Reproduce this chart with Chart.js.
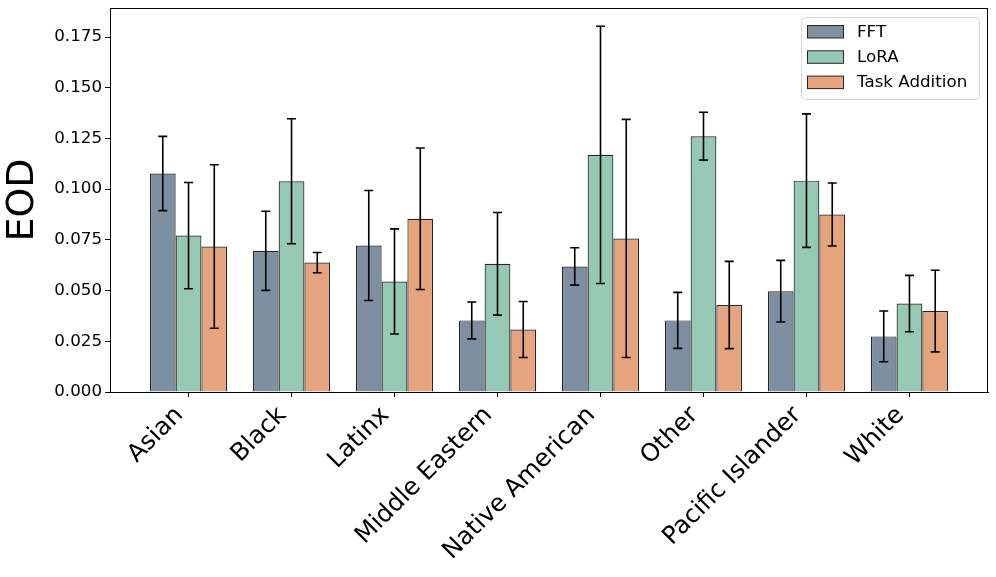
<!DOCTYPE html>
<html>
<head>
<meta charset="utf-8">
<title>EOD by group</title>
<script src="https://cdn.jsdelivr.net/npm/chart.js@4.4.0/dist/chart.umd.min.js"></script>
<style>
    html, body { margin: 0; padding: 0; background: #fff; }
    #wrap { position: relative; width: 996px; height: 577px; }
</style>
</head>
<body>
<div id="wrap"><canvas id="eodChart"></canvas></div>
<script>
const groups = ['Asian', 'Black', 'Latinx', 'Middle Eastern', 'Native American', 'Other', 'Pacific Islander', 'White'];

const fftValues = [0.1077, 0.0696, 0.0722, 0.0353, 0.0619, 0.0353, 0.0497, 0.0274];
const fftErrors = [0.0183, 0.0195, 0.0271, 0.0091, 0.0092, 0.0138, 0.0152, 0.0125];

const loraValues = [0.0771, 0.1039, 0.0545, 0.0632, 0.1169, 0.1261, 0.1042, 0.0436];
const loraErrors = [0.0262, 0.0308, 0.0259, 0.0253, 0.0634, 0.0118, 0.0329, 0.0139];

const taValues = [0.0717, 0.0638, 0.0854, 0.0308, 0.0757, 0.0429, 0.0875, 0.0399];
const taErrors = [0.0403, 0.0050, 0.0349, 0.0138, 0.0587, 0.0215, 0.0155, 0.0201];

const yTicks = [0, 0.025, 0.05, 0.075, 0.1, 0.125, 0.15, 0.175];

const FONT = '"DejaVu Sans", "Liberation Sans", sans-serif';

function toPoints(values) {
    return values.map((v, i) => ({x: i, y: v}));
}

// error bars drawn on top of bars, using the chart's own scales
const errorBars = {
    id: 'errorBars',
    afterDatasetsDraw(chart) {
        const ctx = chart.ctx;
        const yScale = chart.scales.y;
        ctx.save();
        ctx.strokeStyle = '#000';
        ctx.lineWidth = 1.6;
        chart.data.datasets.forEach((ds, i) => {
            const meta = chart.getDatasetMeta(i);
            meta.data.forEach((bar, j) => {
                const v = ds.data[j].y;
                const e = ds.errors[j];
                const yTop = yScale.getPixelForValue(v + e);
                const yBot = yScale.getPixelForValue(v - e);
                const x = bar.x;
                ctx.beginPath();
                ctx.moveTo(x, yTop);
                ctx.lineTo(x, yBot);
                ctx.moveTo(x - 4.5, yTop);
                ctx.lineTo(x + 4.5, yTop);
                ctx.moveTo(x - 4.5, yBot);
                ctx.lineTo(x + 4.5, yBot);
                ctx.stroke();
            });
        });
        ctx.restore();
    }
};

// frame round the plot and the legend in the upper right corner
const frameAndLegend = {
    id: 'frameAndLegend',
    afterDraw(chart) {
        const ctx = chart.ctx;
        const area = chart.chartArea;
        ctx.save();
        ctx.strokeStyle = '#000';
        ctx.lineWidth = 1;
        ctx.strokeRect(area.left + 0.5, area.top + 0.5, area.right - area.left - 1, area.bottom - area.top);

        const boxW = 178, boxH = 82;
        const bx = area.right - 9 - boxW;
        const by = area.top + 9;
        ctx.beginPath();
        ctx.roundRect(bx + 0.5, by + 0.5, boxW, boxH, 4);
        ctx.fillStyle = 'rgba(255,255,255,0.8)';
        ctx.fill();
        ctx.strokeStyle = '#d6d6d6';
        ctx.stroke();

        ctx.font = '16.7px ' + FONT;
        ctx.textBaseline = 'middle';
        ctx.textAlign = 'left';
        chart.data.datasets.forEach((ds, i) => {
            const cy = by + 14.5 + i * 25.3;
            ctx.fillStyle = ds.backgroundColor;
            ctx.fillRect(bx + 6.5, cy - 6, 36, 12.5);
            ctx.strokeStyle = ds.borderColor;
            ctx.lineWidth = 1;
            ctx.strokeRect(bx + 6.5, cy - 6, 36, 12.5);
            ctx.fillStyle = '#000';
            ctx.fillText(ds.label, bx + 56, cy + 1);
        });
        ctx.restore();
    }
};

const ctx = document.getElementById('eodChart').getContext('2d');

new Chart(ctx, {
    type: 'bar',
    data: {
        datasets: [
            {
                label: 'FFT',
                data: toPoints(fftValues),
                errors: fftErrors,
                backgroundColor: '#7d8fa1',
                borderColor: '#262626',
                borderWidth: 1.2
            },
            {
                label: 'LoRA',
                data: toPoints(loraValues),
                errors: loraErrors,
                backgroundColor: '#96c9b5',
                borderColor: '#262626',
                borderWidth: 1.2
            },
            {
                label: 'Task Addition',
                data: toPoints(taValues),
                errors: taErrors,
                backgroundColor: '#e5a47d',
                borderColor: '#262626',
                borderWidth: 1.2
            }
        ]
    },
    options: {
        responsive: true,
        maintainAspectRatio: false,
        animation: false,
        layout: {
            padding: {top: 8, right: 8, left: 0, bottom: 0}
        },
        datasets: {
            bar: {
                categoryPercentage: 0.75,
                barPercentage: 1.0
            }
        },
        plugins: {
            legend: {display: false},
            tooltip: {enabled: false}
        },
        scales: {
            x: {
                type: 'linear',
                offset: false,
                min: -0.7625,
                max: 7.7625,
                afterBuildTicks(scale) {
                    scale.ticks = groups.map((g, i) => ({value: i}));
                },
                afterFit(scale) {
                    scale.height = 185;
                    scale.paddingLeft = 0;
                    scale.paddingRight = 0;
                },
                grid: {
                    offset: false,
                    drawOnChartArea: false,
                    drawTicks: true,
                    tickLength: 5,
                    color: '#000'
                },
                border: {display: true, color: '#000'},
                ticks: {
                    autoSkip: false,
                    minRotation: 45,
                    maxRotation: 45,
                    padding: 4,
                    labelOffset: -9,
                    color: '#000',
                    font: {family: FONT, size: 24.5},
                    callback: (value) => groups[value]
                }
            },
            y: {
                min: 0,
                max: 0.1893,
                afterBuildTicks(scale) {
                    scale.ticks = yTicks.map(v => ({value: v}));
                },
                afterFit(scale) {
                    scale.width = 110;
                    scale.paddingTop = 0;
                    scale.paddingBottom = 0;
                },
                grid: {
                    drawOnChartArea: false,
                    drawTicks: true,
                    tickLength: 5,
                    color: '#000'
                },
                border: {display: true, color: '#000'},
                ticks: {
                    padding: 3,
                    color: '#000',
                    font: {family: FONT, size: 16.7},
                    callback: (value) => value.toFixed(3)
                },
                title: {
                    display: true,
                    text: 'EOD',
                    color: '#000',
                    padding: 0,
                    font: {family: FONT, size: 38}
                }
            }
        }
    },
    plugins: [errorBars, frameAndLegend]
});
</script>
</body>
</html>
